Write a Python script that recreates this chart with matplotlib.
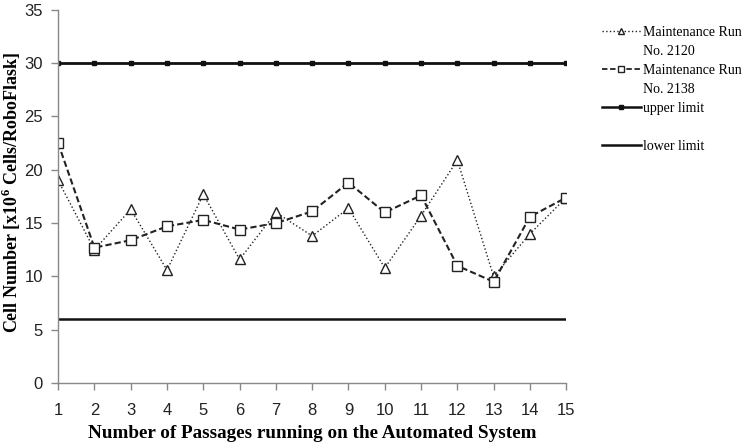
import matplotlib

matplotlib.use("Agg")

import matplotlib.pyplot as plt
from matplotlib.lines import Line2D

passages = list(range(1, 16))
run_2120 = [19.0, 12.5, 16.3, 10.6, 17.7, 11.6, 16.0, 13.8, 16.4, 10.8, 15.7, 20.9, 10.0, 14.0, 17.4]
run_2138 = [22.5, 12.7, 13.4, 14.7, 15.3, 14.4, 15.0, 16.1, 18.8, 16.0, 17.6, 11.0, 9.5, 15.6, 17.4]
upper_limit = [30] * 15
lower_limit = [6] * 15

plt.rcParams["mathtext.fontset"] = "custom"
plt.rcParams["mathtext.rm"] = "Liberation Serif:bold"
plt.rcParams["mathtext.bf"] = "Liberation Serif:bold"

fig = plt.figure(figsize=(7.55, 4.46), dpi=100)
ax = fig.add_axes([0.077, 0.141, 0.673, 0.837])

dark = "#222222"
ax.plot(passages, run_2120, linestyle=":", color=dark, linewidth=1.0,
        marker="^", markersize=7, markerfacecolor="white", markeredgecolor=dark,
        markeredgewidth=1.0)
ax.plot(passages, run_2138, linestyle="--", color=dark, linewidth=1.5, dashes=(3, 1.5),
        marker="s", markersize=7, markerfacecolor="white", markeredgecolor=dark,
        markeredgewidth=1.0)
ax.plot(passages, upper_limit, color="#111111", linewidth=2.0, marker="s", markersize=3)
ax.plot(passages, lower_limit, color="#111111", linewidth=1.8)

ax.set_xlim(1, 15)
ax.set_ylim(0, 35)
ax.set_xticks(passages)
ax.set_yticks(range(0, 36, 5))
for side in ["top", "right"]:
    ax.spines[side].set_visible(False)
for side in ["left", "bottom"]:
    ax.spines[side].set_color("#888888")
    ax.spines[side].set_linewidth(1.0)
ax.tick_params(axis="both", direction="out", length=5, color="#888888", width=1.0,
               labelsize=12, labelcolor=dark)
ax.tick_params(axis="x", pad=9)
ax.tick_params(axis="y", pad=6)
for lab in ax.get_xticklabels() + ax.get_yticklabels():
    lab.set_fontfamily("Liberation Sans")

ax.set_xlabel("Number of Passages running on the Automated System",
              fontfamily="Liberation Serif", fontweight="bold", fontsize=13.8)
ax.xaxis.set_label_coords(0.5, -0.113)
ax.set_ylabel(r"Cell Number [x10$^{6}$ Cells/RoboFlask]",
              fontfamily="Liberation Serif", fontweight="bold", fontsize=13)
ax.yaxis.set_label_coords(-0.069, 0.51)

# legend built like the original: handle sits on the first text line
blank = Line2D([], [], linestyle="none")
h1 = Line2D([], [], linestyle=":", color=dark, linewidth=1.0, marker="^", markersize=5,
            markerfacecolor="white", markeredgecolor=dark)
h2 = Line2D([], [], linestyle="--", color=dark, linewidth=1.3, dashes=(3, 1.5), marker="s",
            markersize=5, markerfacecolor="white", markeredgecolor=dark)
h3 = Line2D([], [], color="#111111", linewidth=1.8, marker="s", markersize=3)
h4 = Line2D([], [], color="#111111", linewidth=1.8)
handles = [h1, blank, h2, blank, h3, blank, h4]
labels = ["Maintenance Run", "No. 2120", "Maintenance Run", "No. 2138",
          "upper limit", "", "lower limit"]
fig.legend(handles, labels, loc="upper left", bbox_to_anchor=(0.797, 0.942), frameon=False,
           prop={"family": "Liberation Serif", "size": 10}, handlelength=2.8,
           handletextpad=0.15, labelspacing=0.43, numpoints=1, borderaxespad=0,
           borderpad=0)

fig.savefig("out.png", dpi=100)
